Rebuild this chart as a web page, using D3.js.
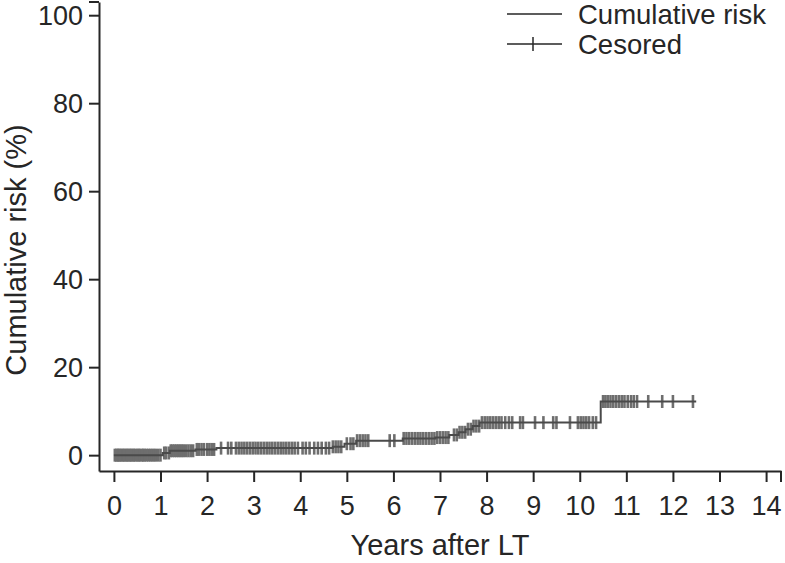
<!DOCTYPE html>
<html>
<head>
<meta charset="utf-8">
<script src="https://cdn.jsdelivr.net/npm/d3@7"></script>
<style>
  body { margin: 0; background: #fff; }
  text { font-family: "Liberation Sans", Arial, sans-serif; fill: #262626; }
</style>
</head>
<body>
<script>
// step curve: time (years) at which the risk changes, and the new risk (%)
var stepTimes = [0, 1.05, 1.2, 1.75, 2.2, 4.7, 4.95, 5.2, 6.2, 6.9, 7.2, 7.4, 7.55, 7.7, 7.85, 10.45, 12.5];
var stepRisk  = [0, 0.5, 1.0, 1.3, 1.6, 1.9, 2.6, 3.3, 3.8, 4.0, 4.6, 5.2, 5.9, 6.6, 7.4, 12.2, 12.2];

// censored follow-up times (years)
var censored = [
  0.02, 0.05, 0.08, 0.1, 0.13, 0.16, 0.19, 0.22, 0.25, 0.28, 0.31, 0.34, 0.37, 0.4, 0.43, 0.46,
  0.5, 0.53, 0.56, 0.6, 0.63, 0.66, 0.7, 0.74, 0.78, 0.82, 0.86, 0.9, 0.95, 1.0, 1.08, 1.12, 1.18,
  1.22, 1.26, 1.3, 1.34, 1.38, 1.42, 1.46, 1.5, 1.55, 1.6, 1.65, 1.7, 1.78, 1.82, 1.88, 1.93,
  2.0, 2.05, 2.1, 2.15, 2.3, 2.45, 2.52, 2.62, 2.68, 2.74, 2.8, 2.86, 2.92, 2.98, 3.04, 3.1,
  3.16, 3.22, 3.28, 3.34, 3.4, 3.46, 3.52, 3.58, 3.64, 3.7, 3.76, 3.82, 3.88, 3.95, 4.05, 4.12,
  4.2, 4.3, 4.38, 4.46, 4.55, 4.62, 4.7, 4.76, 4.82, 4.88, 5.0, 5.08, 5.14, 5.22, 5.28, 5.34,
  5.4, 5.46, 5.92, 6.02, 6.22, 6.28, 6.34, 6.4, 6.46, 6.52, 6.58, 6.64, 6.7, 6.76, 6.82, 6.88,
  6.94, 7.0, 7.06, 7.12, 7.18, 7.3, 7.36, 7.42, 7.48, 7.54, 7.6, 7.66, 7.72, 7.78, 7.84, 7.9,
  7.96, 8.02, 8.08, 8.14, 8.2, 8.26, 8.32, 8.4, 8.48, 8.55, 8.72, 8.78, 9.04, 9.22, 9.43, 9.5,
  9.79, 9.96, 10.02, 10.08, 10.14, 10.2, 10.28, 10.35, 10.5, 10.55, 10.6, 10.66, 10.72, 10.78,
  10.84, 10.9, 10.96, 11.03, 11.1, 11.16, 11.23, 11.47, 11.77, 12.0, 12.43
];

var xTicks = d3.range(0, 15);
var yTicks = [0, 20, 40, 60, 80, 100];
var legendLabels = ["Cumulative risk", "Cesored"];

var width = 785, height = 563;
var plot = {left: 99, right: 781, top: 2, bottom: 471};

var svg = d3.select("body").append("svg")
    .attr("width", width)
    .attr("height", height);

// scales
var x = d3.scaleLinear().domain([-0.32, 14.32]).range([plot.left, plot.right]);
var y = d3.scaleLinear().domain([-3.6, 103]).range([plot.bottom, plot.top]);

// curve data
var steps = stepTimes.map(function(t, i) { return {t: t, r: stepRisk[i]}; });
var bisect = d3.bisector(function(d) { return d.t; }).right;
function riskAt(t) { return steps[Math.max(0, bisect(steps, t) - 1)].r; }

// censor ticks
svg.append("g")
    .attr("stroke", "#6e6e6e")
    .attr("stroke-width", 2.6)
  .selectAll("line")
  .data(censored)
  .enter().append("line")
    .attr("x1", function(d) { return x(d); })
    .attr("x2", function(d) { return x(d); })
    .attr("y1", function(d) { return y(riskAt(d)) - 6.5; })
    .attr("y2", function(d) { return y(riskAt(d)) + 6.5; });

// step line
var line = d3.line()
    .curve(d3.curveStepAfter)
    .x(function(d) { return x(d.t); })
    .y(function(d) { return y(d.r); });

svg.append("path")
    .datum(steps)
    .attr("fill", "none")
    .attr("stroke", "#4a4a4a")
    .attr("stroke-width", 2)
    .attr("d", line);

// axes
var xAxis = svg.append("g")
    .attr("transform", "translate(0," + plot.bottom + ")")
    .call(d3.axisBottom(x).tickValues(xTicks).tickSize(11).tickSizeOuter(0).tickPadding(14));

var yAxis = svg.append("g")
    .attr("transform", "translate(" + plot.left + ",0)")
    .call(d3.axisLeft(y).tickValues(yTicks).tickSize(10).tickSizeOuter(0).tickPadding(6));

[xAxis, yAxis].forEach(function(g) {
  g.select(".domain").attr("stroke", "#262626").attr("stroke-width", 2);
  g.selectAll(".tick line").attr("stroke", "#262626").attr("stroke-width", 2);
  g.selectAll(".tick text").style("font-size", "27px").attr("fill", "#262626");
});
yAxis.selectAll(".tick text").attr("dy", "0.36em");

// end-of-axis marks
svg.append("line")
    .attr("x1", x.range()[1]).attr("x2", x.range()[1])
    .attr("y1", plot.bottom).attr("y2", plot.bottom + 11)
    .attr("stroke", "#262626").attr("stroke-width", 2);
svg.append("line")
    .attr("x1", plot.left - 10).attr("x2", plot.left)
    .attr("y1", y.range()[1]).attr("y2", y.range()[1])
    .attr("stroke", "#262626").attr("stroke-width", 2);

// axis titles
svg.append("text")
    .attr("x", (plot.left + plot.right) / 2)
    .attr("y", 555)
    .attr("text-anchor", "middle")
    .style("font-size", "29px")
    .text("Years after LT");

svg.append("text")
    .attr("transform", "translate(26,250) rotate(-90)")
    .attr("text-anchor", "middle")
    .style("font-size", "29px")
    .text("Cumulative risk (%)");

// legend
var legend = svg.append("g").attr("transform", "translate(507,14)");
var rows = legend.selectAll("g")
    .data(legendLabels)
  .enter().append("g")
    .attr("transform", function(d, i) { return "translate(0," + i * 30 + ")"; });

rows.append("line")
    .attr("x1", 0).attr("x2", 55)
    .attr("stroke", "#262626").attr("stroke-width", 1.5);

rows.filter(function(d, i) { return i === 1; })
  .append("line")
    .attr("x1", 26).attr("x2", 26)
    .attr("y1", -7).attr("y2", 7)
    .attr("stroke", "#262626").attr("stroke-width", 1.5);

rows.append("text")
    .attr("x", 71)
    .attr("dy", "0.37em")
    .style("font-size", "27.5px")
    .text(function(d) { return d; });
</script>
</body>
</html>
